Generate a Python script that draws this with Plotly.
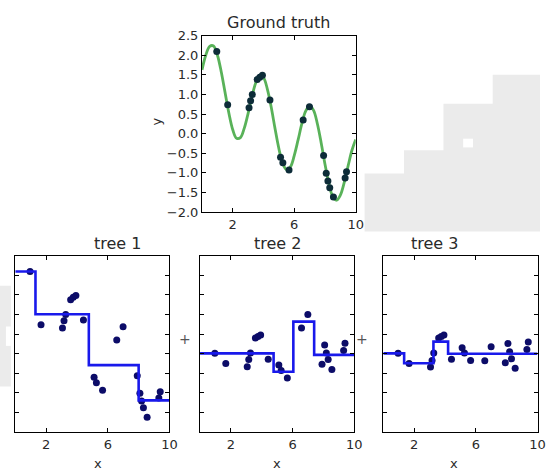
import plotly.graph_objects as go

# --- data -------------------------------------------------------------------
# smooth target function, sampled along x
curve_x = [i * 0.25 for i in range(41)]
curve_y = [1.63, 2.01, 2.23, 2.24, 2.01, 1.58, 1.05, 0.52, 0.10, -0.12,
           -0.10, 0.14, 0.52, 0.95, 1.30, 1.48, 1.43, 1.14, 0.68, 0.13,
           -0.38, -0.76, -0.92, -0.85, -0.56, -0.16, 0.26, 0.58, 0.70, 0.60,
           0.26, -0.23, -0.78, -1.27, -1.60, -1.70, -1.57, -1.25, -0.83, -0.43,
           -0.15]

# training samples
x_train = [0.96, 1.67, 3.06, 3.16, 3.27, 3.59, 3.76, 3.93, 4.42, 5.11, 5.26,
           5.66, 6.58, 6.99, 7.91, 8.08, 8.19, 8.31, 8.55, 9.31, 9.40]
y_train = [2.10, 0.74, 0.66, 0.84, 1.00, 1.38, 1.44, 1.49, 0.86, -0.60, -0.74,
           -0.93, 0.35, 0.69, -0.56, -1.01, -1.21, -1.38, -1.62, -1.13, -0.97]

# residuals each successive tree is fit to
resid_tree2 = [0.01, -0.25, -0.33, -0.15, 0.02, 0.40, 0.44, 0.48, -0.14, -0.29,
               -0.43, -0.62, 0.66, 1.00, -0.27, 0.22, 0.02, -0.15, -0.40, 0.08, 0.27]
resid_tree3 = [0.01, -0.25, -0.34, -0.17, 0.02, 0.40, 0.44, 0.48, -0.14, 0.15,
               0.02, -0.17, -0.18, 0.18, -0.23, 0.26, 0.05, -0.13, -0.37, 0.11, 0.30]

# piecewise-constant tree predictions: split thresholds and leaf values
tree1_splits = [1.31, 4.77, 8.00]
tree1_leaves = [2.10, 1.01, -0.29, -1.19]
tree2_splits = [4.77, 6.05, 7.40]
tree2_leaves = [0.01, -0.46, 0.82, -0.03]
tree3_splits = [1.35, 3.25, 4.20]
tree3_leaves = [0.01, -0.245, 0.31, 0.00]

tree_titles = ["tree 1", "tree 2", "tree 3"]
x_ticks = [2, 6, 10]
y_ticks = [-2.0, -1.5, -1.0, -0.5, 0.0, 0.5, 1.0, 1.5, 2.0, 2.5]
x_lo, x_hi = 0, 10
y_lo, y_hi = -2.0, 2.5

# --- layout geometry (pixels) --------------------------------------------------
W, H = 548, 472
FONT = "DejaVu Sans"
TXT = "#2a2a2a"


def px_x(p):
    return p / W


def px_y(p):
    return 1 - p / H


top_box = (205, 361, 29.7, 211.7)
bottom_boxes = [(15.5, 172, 257, 439), (203, 359.5, 257, 439), (389, 545.5, 257, 439)]

fig = go.Figure()

# ground truth panel
fig.add_trace(go.Scatter(x=curve_x, y=curve_y, mode="lines",
                         line=dict(color="rgba(60,165,60,0.85)", width=2.8, shape="spline"),
                         xaxis="x", yaxis="y", hoverinfo="skip"))
fig.add_trace(go.Scatter(x=x_train, y=y_train, mode="markers",
                         marker=dict(color="#0d2c38", size=7),
                         xaxis="x", yaxis="y"))


def step_xy(splits, leaves):
    xs = [x_lo] + list(splits) + [x_hi]
    ys = list(leaves) + [leaves[-1]]
    return xs, ys


panels = [
    (y_train, tree1_splits, tree1_leaves),
    (resid_tree2, tree2_splits, tree2_leaves),
    (resid_tree3, tree3_splits, tree3_leaves),
]
for i, (pts, splits, leaves) in enumerate(panels):
    ax = str(i + 2)
    sx, sy = step_xy(splits, leaves)
    fig.add_trace(go.Scatter(x=x_train, y=pts, mode="markers",
                             marker=dict(color="#0c0c68", size=7),
                             xaxis="x" + ax, yaxis="y" + ax))
    fig.add_trace(go.Scatter(x=sx, y=sy, mode="lines",
                             line=dict(color="rgb(25,25,235)", width=2.6, shape="hv"),
                             xaxis="x" + ax, yaxis="y" + ax))

axis_common = dict(showline=True, linecolor="black", linewidth=1, mirror="ticks",
                   ticks="inside", ticklen=4, tickcolor="black", showgrid=False,
                   zeroline=False, tickfont=dict(family=FONT, size=13, color=TXT))

layout = dict(
    width=W, height=H, margin=dict(l=0, r=0, t=0, b=0),
    paper_bgcolor="white", plot_bgcolor="white", showlegend=False,
    font=dict(family=FONT, size=13, color=TXT),
)
layout["xaxis"] = dict(axis_common, domain=[px_x(top_box[0]), px_x(top_box[1])],
                       range=[x_lo, x_hi], tickvals=x_ticks, anchor="y")
layout["yaxis"] = dict(axis_common, domain=[px_y(top_box[3]), px_y(top_box[2])],
                       range=[y_lo, y_hi], tickvals=y_ticks, tickformat=".1f", anchor="x")
for i, (l, r, t, b) in enumerate(bottom_boxes):
    ax = str(i + 2)
    layout["xaxis" + ax] = dict(axis_common, domain=[px_x(l), px_x(r)], range=[x_lo, x_hi],
                                tickvals=x_ticks, anchor="y" + ax)
    layout["yaxis" + ax] = dict(axis_common, domain=[px_y(b), px_y(t)], range=[y_lo, y_hi],
                                tickvals=y_ticks, showticklabels=False, anchor="x" + ax)

annotations = [
    dict(text="Ground truth", x=px_x((top_box[0] + top_box[1]) / 2), y=px_y(16.5),
         font=dict(size=16)),
    dict(text="y", x=px_x(149), y=px_y(118), textangle=-90, font=dict(size=13)),
]
for i, (l, r, t, b) in enumerate(bottom_boxes):
    cx = px_x((l + r) / 2)
    annotations.append(dict(text=tree_titles[i], x=cx, y=px_y(244), font=dict(size=16)))
    annotations.append(dict(text="x", x=cx, y=px_y(462), yanchor="top", font=dict(size=13)))
for pxp in (188, 375):
    annotations.append(dict(text="+", x=px_x(pxp), y=px_y(343), font=dict(size=14, color="#555")))
for a in annotations:
    a.update(xref="paper", yref="paper", showarrow=False)
    a.setdefault("yanchor", "middle")
layout["annotations"] = annotations

# pale backdrop patches behind the figure
gray = "#ebebeb"
pts = [(370, 172), (410, 172), (410, 148), (450, 148), (450, 100), (500, 100),
       (500, 70), (548, 70), (548, 232), (370, 232)]
path = "M " + " L ".join(f"{px_x(a):.4f},{px_y(b):.4f}" for a, b in pts) + " Z"
layout["shapes"] = [
    dict(type="rect", xref="paper", yref="paper", x0=0, x1=px_x(11), y0=px_y(392), y1=px_y(288),
         fillcolor=gray, line=dict(width=0), layer="below"),
    dict(type="rect", xref="paper", yref="paper", x0=px_x(6), x1=px_x(11), y0=px_y(350), y1=px_y(330),
         fillcolor="white", line=dict(width=0), layer="below"),
    dict(type="path", xref="paper", yref="paper", path=path,
         fillcolor=gray, line=dict(width=0), layer="below"),
    dict(type="rect", xref="paper", yref="paper", x0=px_x(470), x1=px_x(480), y0=px_y(145), y1=px_y(136),
         fillcolor="white", line=dict(width=0), layer="below"),
]

fig.update_layout(layout)
fig.write_html("out.html")
